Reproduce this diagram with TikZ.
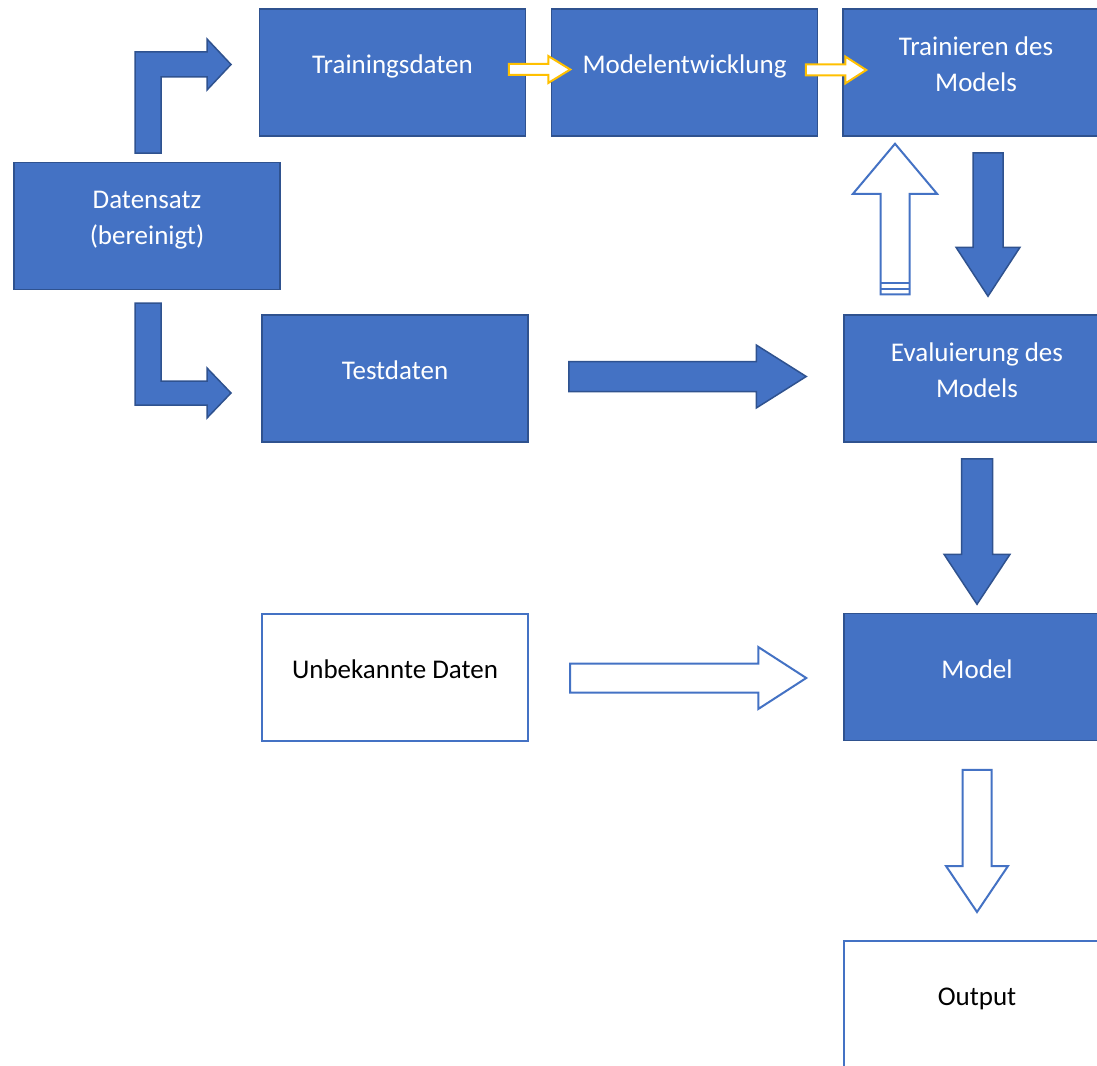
\documentclass[tikz,border=0pt]{standalone}
\usepackage{fontspec}
\setmainfont{Carlito}
\usepackage{xcolor}
\definecolor{cBlue}{HTML}{4472C4}
\definecolor{cBlueDark}{HTML}{2F528F}
\definecolor{cGold}{HTML}{FFC000}
\usepackage{tikz}
\usetikzlibrary{calc}
\tikzset{
  node-box/.style={minimum width=133pt,minimum height=63.5pt,inner sep=0pt,
    align=center,font=\fontsize{13.5}{18}\selectfont,
    execute at end node={\vrule width 0pt depth 8pt}},
  node-blue/.style={node-box,fill=cBlue,draw=cBlueDark,line width=0.75pt,text=white},
  node-white/.style={node-box,fill=white,draw=cBlue,line width=1pt,text=black},
  arrow-blue/.style={fill=cBlue,draw=cBlueDark,line width=0.75pt},
  arrow-white/.style={fill=white,draw=cBlue,line width=1pt},
  arrow-gold/.style={fill=white,draw=cGold,line width=1pt},
  % Blockpfeil: halbe Schaftbreite, halbe Spitzenbreite, Spitzenlaenge
  block/.style n args={3}{to path={
    let \p1=($(\tikztotarget)!#3!(\tikztostart)$) in
    ($(\tikztostart)!#1!90:(\tikztotarget)$) -- ($(\p1)!#1!90:(\tikztotarget)$)
    -- ($(\p1)!#2!90:(\tikztotarget)$) -- (\tikztotarget)
    -- ($(\p1)!#2!-90:(\tikztotarget)$) -- ($(\p1)!#1!-90:(\tikztotarget)$)
    -- ($(\tikztostart)!#1!-90:(\tikztotarget)$) -- cycle}},
}

\begin{document}
\begin{tikzpicture}[x=0.5pt,y=-0.5pt]
  \useasboundingbox (0,0) rectangle (1097,1065);
  \clip (0,0) rectangle (1097,1065);
  % Kaesten
  \node[node-blue] (train) at (392.5,72.5) {Trainingsdaten};
  \node[node-blue] (devel) at (684.5,72.5) {Modelentwicklung};
  \node[node-blue] (fit) at (976,72.5) {Trainieren des\\Models};
  \node[node-blue] (data) at (147,226) {Datensatz\\(bereinigt)};
  \node[node-blue] (test) at (395,378.5) {Testdaten};
  \node[node-blue] (eval) at (977,378.5) {Evaluierung des\\Models};
  \node[node-white] (unknown) at (395,677) {Unbekannte Daten};
  \node[node-blue] (model) at (977,677) {Model};
  \node[node-white] (output) at (977,1004.5) {Output};

  % Datensatz aufteilen
  \draw[arrow-blue] (135,153) -- (135,52) -- (207,52) -- (207,39) -- (231,64.5)
    -- (207,90) -- (207,77) -- (161,77) -- (161,153) -- cycle;
  \draw[arrow-blue] (135,303) -- (135,405) -- (207,405) -- (207,418) -- (231,393)
    -- (207,368) -- (207,381) -- (161,381) -- (161,303) -- cycle;

  % Training
  \draw[arrow-gold] ([shift={(-17.5,-3)}]train.east)
    to[block={2.75pt}{6.75pt}{11pt}] ([shift={(19.5,-3)}]devel.west);
  \draw[arrow-gold] ([shift={(-12.5,-2.5)}]devel.east)
    to[block={2.75pt}{6.75pt}{10.5pt}] ([shift={(24,-2.5)}]fit.west);
  \draw[arrow-blue] ([shift={(12,16)}]fit.south)
    to[block={7.5pt}{16pt}{24.5pt}] ([shift={(11,-18)}]eval.north);
  \draw[arrow-white] ([shift={(-82,-20)}]eval.north)
    to[block={7.25pt}{21pt}{25pt}] ([shift={(-81,7)}]fit.south);
  \draw[arrow-white] (881,283) -- (910,283) (881,289) -- (910,289);

  % Test und Anwendung
  \draw[arrow-blue] ([shift={(40,-2)}]test.east)
    to[block={7.5pt}{15.75pt}{25pt}] ([shift={(-37,-2)}]eval.west);
  \draw[arrow-blue] ([shift={(0,16)}]eval.south)
    to[block={7.75pt}{16.5pt}{25pt}] ([shift={(0,-8.5)}]model.north);
  \draw[arrow-white] ([shift={(41,1)}]unknown.east)
    to[block={7.25pt}{15.5pt}{24pt}] ([shift={(-37,1)}]model.west);
  \draw[arrow-white] ([shift={(0,28.5)}]model.south)
    to[block={7.25pt}{15.5pt}{23pt}] ([shift={(0,-28)}]output.north);
\end{tikzpicture}
\end{document}
